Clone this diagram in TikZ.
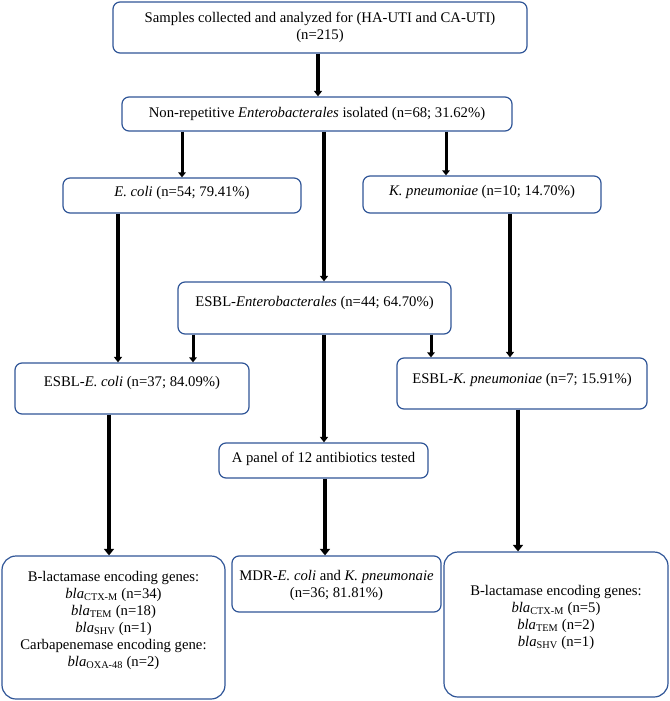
\documentclass[tikz,border=0pt]{standalone}
\usepackage{fontspec}
\setmainfont{Liberation Serif}
\usetikzlibrary{arrows.meta}
\definecolor{boxblue}{RGB}{47,85,151}
\begin{document}
\begin{tikzpicture}[x=1pt,y=-1pt,
  box/.style={draw=boxblue, line width=1.2pt, rounded corners=7pt, inner sep=0pt, rectangle},
  bigbox/.style={box, rounded corners=14pt},
  txt/.style={align=center, inner sep=0pt, font=\fontsize{14.7}{17}\selectfont},
  arr/.style={-{Triangle[width=7.5pt,length=5pt]}, line width=3pt},
  arrm/.style={-{Triangle[width=8pt,length=5.5pt]}, line width=3.6pt},
  arrb/.style={-{Triangle[width=10pt,length=6.5pt]}, line width=4.5pt}]
\useasboundingbox (0,0) rectangle (669,701);
% boxes
\node[box, minimum width=414pt, minimum height=51pt] (top) at (320,27.5) {};
\node[box, minimum width=390pt, minimum height=34pt] (nonrep) at (317,114) {};
\node[box, minimum width=238pt, minimum height=35pt] (ecoli) at (182,195.5) {};
\node[box, minimum width=238pt, minimum height=37pt] (kpn) at (482,194.5) {};
\node[box, minimum width=273pt, minimum height=52pt] (esblent) at (314.5,308) {};
\node[box, minimum width=234pt, minimum height=51pt] (esblec) at (132,388.5) {};
\node[box, minimum width=250pt, minimum height=51pt] (esblkp) at (522,383.5) {};
\node[box, minimum width=209pt, minimum height=35pt] (panel) at (323.5,460.5) {};
\node[bigbox, minimum width=223pt, minimum height=143pt] (genec) at (113.5,627.5) {};
\node[box, minimum width=209pt, minimum height=56pt] (mdr) at (336.5,584) {};
\node[bigbox, minimum width=224pt, minimum height=145pt] (genkp) at (556,624.5) {};
% texts
\node[txt] (topt) at (320,27.5) {Samples collected and analyzed for (HA-UTI and CA-UTI)\\(n=215)};
\node[txt] (nonrept) at (317,114) {Non-repetitive \textit{Enterobacterales} isolated (n=68; 31.62\%)};
\node[txt] (ecolit) at (182,193) {\textit{E. coli} (n=54; 79.41\%)};
\node[txt] (kpnt) at (482,192) {\textit{K. pneumoniae} (n=10; 14.70\%)};
\node[txt] (esblentt) at (314.5,303) {ESBL-\textit{Enterobacterales} (n=44; 64.70\%)};
\node[txt] (esblect) at (132,383) {ESBL-\textit{E. coli} (n=37; 84.09\%)};
\node[txt] (esblkpt) at (522,380) {ESBL-\textit{K. pneumoniae} (n=7; 15.91\%)};
\node[txt] (panelt) at (323.5,459) {A panel of 12 antibiotics tested};
\node[txt] (genect) at (113.5,620) {B-lactamase encoding genes:\\
  \textit{bla}\textsubscript{CTX-M} (n=34)\\
  \textit{bla}\textsubscript{TEM} (n=18)\\
  \textit{bla}\textsubscript{SHV} (n=1)\\
  Carbapenemase encoding gene:\\
  \textit{bla}\textsubscript{OXA-48} (n=2)};
\node[txt] (mdrt) at (336.5,585) {MDR-\textit{E. coli} and \textit{K. pneumonaie}\\(n=36; 81.81\%)};
\node[txt] (genkpt) at (556,617.5) {B-lactamase encoding genes:\\
  \textit{bla}\textsubscript{CTX-M} (n=5)\\
  \textit{bla}\textsubscript{TEM} (n=2)\\
  \textit{bla}\textsubscript{SHV} (n=1)};
% arrow x positions
\coordinate (x1) at (318,0);
\coordinate (x2) at (182,0);
\coordinate (x3) at (324,0);
\coordinate (x4) at (446,0);
\coordinate (x5) at (118,0);
\coordinate (x6) at (510,0);
\coordinate (x7) at (193,0);
\coordinate (x8) at (431,0);
\coordinate (x10) at (109,0);
\coordinate (x11) at (325,0);
\coordinate (x12) at (518,0);
% connectors
\draw[arrm] (top.south -| x1) -- (nonrep.north -| x1);
\draw[arr] (nonrep.south -| x2) -- (ecoli.north -| x2);
\draw[arrm] (nonrep.south -| x3) -- (esblent.north -| x3);
\draw[arr] (nonrep.south -| x4) -- (kpn.north -| x4);
\draw[arrm] (ecoli.south -| x5) -- (esblec.north -| x5);
\draw[arrm] (kpn.south -| x6) -- (esblkp.north -| x6);
\draw[arr] (esblent.south -| x7) -- (esblec.north -| x7);
\draw[arr] (esblent.south -| x8) -- (esblkp.north -| x8);
\draw[arrm] (esblent.south -| x3) -- (panel.north -| x3);
\draw[arrb] (esblec.south -| x10) -- (genec.north -| x10);
\draw[arrb] (panel.south -| x11) -- (mdr.north -| x11);
\draw[arrb] (esblkp.south -| x12) -- (genkp.north -| x12);
\end{tikzpicture}
\end{document}
